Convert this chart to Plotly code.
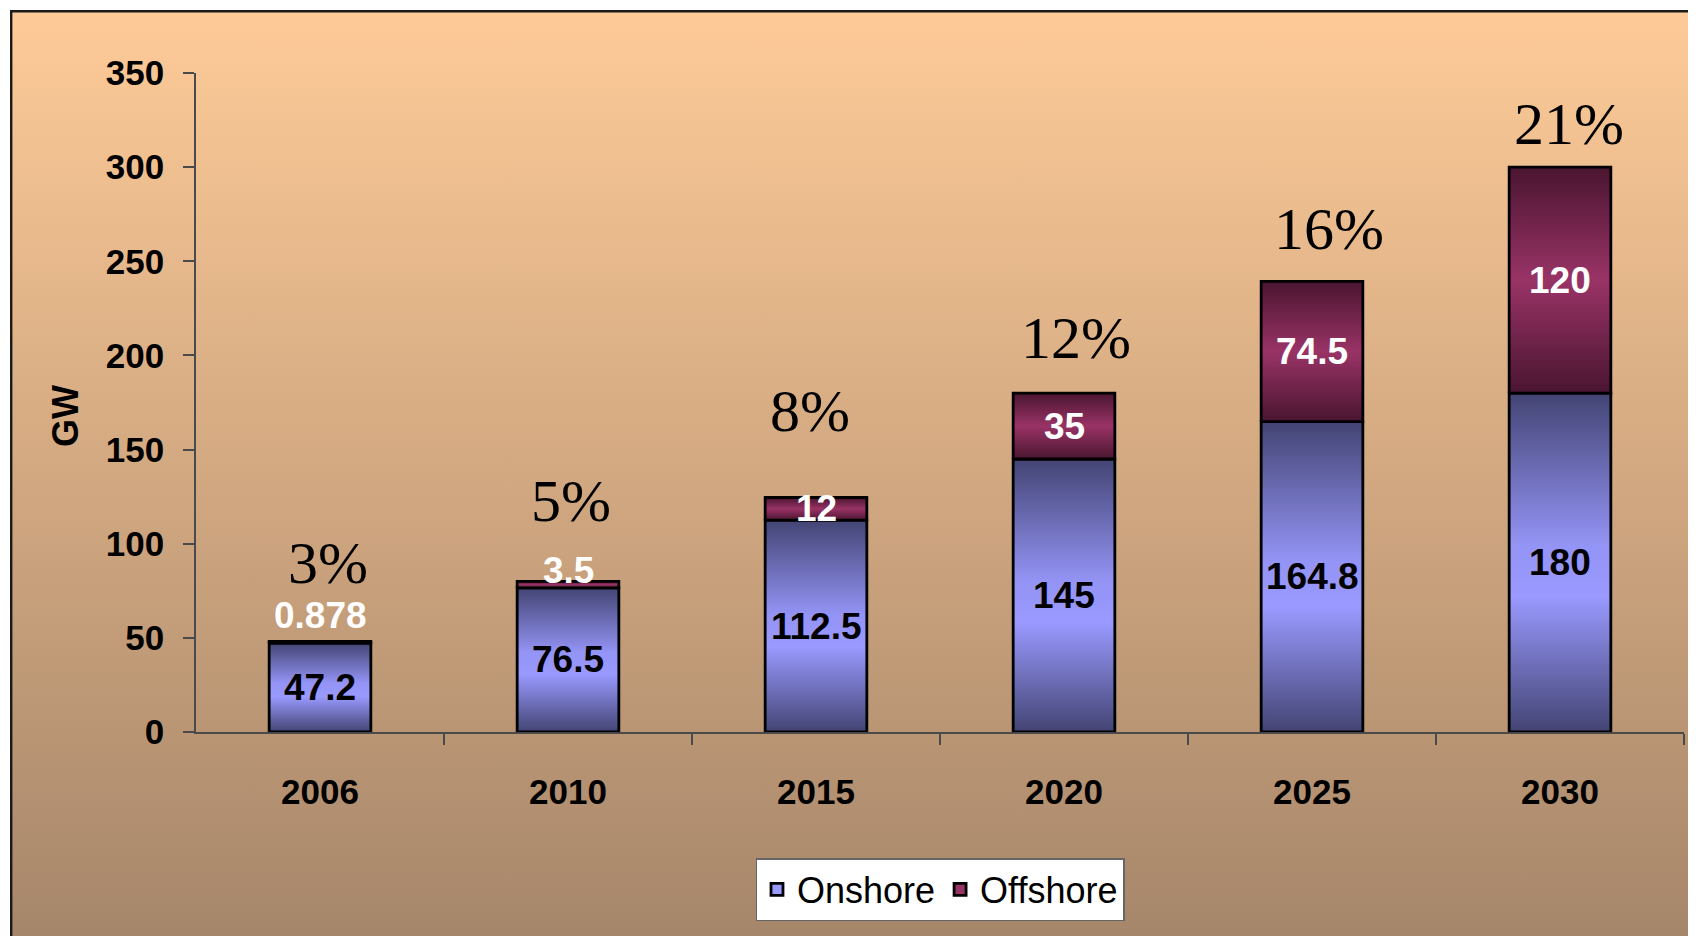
import base64
import plotly.graph_objects as go

# ---- data ----
years = ["2006", "2010", "2015", "2020", "2025", "2030"]
onshore = [47.2, 76.5, 112.5, 145, 164.8, 180]
offshore = [0.878, 3.5, 12, 35, 74.5, 120]
share_labels = ["3%", "5%", "8%", "12%", "16%", "21%"]
onshore_text = ["47.2", "76.5", "112.5", "145", "164.8", "180"]
offshore_text = ["0.878", "3.5", "12", "35", "74.5", "120"]
y_ticks = [0, 50, 100, 150, 200, 250, 300, 350]

# ---- layout constants (figure is placed at page offset 8,8 by body margin) ----
W, H = 1688, 928
ML, MR, MT, MB = 188, 12, 65, 204
PW, PH = W - ML - MR, H - MT - MB
bar_w = 0.41
xpos = list(range(len(years)))

SANS = "Liberation Sans, Arial, sans-serif"
SERIF = "Liberation Serif, Times New Roman, serif"

on_scale = [[0, "#434473"], [0.4, "#9999FF"], [0.55, "#9494f6"], [1, "#434473"]]
off_scale = [[0, "#4a1530"], [0.5, "#993366"], [1, "#4a1530"]]

fig = go.Figure()

# legend-bearing bars (solid), overdrawn by gradient polygons below
fig.add_trace(go.Bar(x=xpos, y=onshore, width=bar_w, name="Onshore",
                     marker=dict(color="#9999FF", line=dict(color="black", width=2.8)),
                     hoverinfo="skip"))
fig.add_trace(go.Bar(x=xpos, y=offshore, width=bar_w, name="Offshore",
                     marker=dict(color="#993366", line=dict(color="black", width=2.8)),
                     hoverinfo="skip"))

def seg(xc, b, t, scale):
    x0, x1 = xc - bar_w / 2, xc + bar_w / 2
    return go.Scatter(x=[x0, x1, x1, x0, x0], y=[b, b, t, t, b], mode="lines",
                      fill="toself",
                      fillgradient=dict(type="vertical", colorscale=scale),
                      line=dict(color="black", width=2.8),
                      hoverinfo="skip", showlegend=False)

for i, xc in enumerate(xpos):
    fig.add_trace(seg(xc, 0, onshore[i], on_scale))
    fig.add_trace(seg(xc, onshore[i], onshore[i] + offshore[i], off_scale))

annotations = []
# value labels
for i, xc in enumerate(xpos):
    annotations.append(dict(x=xc, y=onshore[i] / 2, text=onshore_text[i], showarrow=False,
                            font=dict(family=SANS, size=37, color="black", weight="bold"),
                            xanchor="center", yanchor="middle"))
off_shift = [26, 11, 0, 0, 0, 0]
for i, xc in enumerate(xpos):
    yv = onshore[i] + offshore[i] / 2 if off_shift[i] == 0 else onshore[i] + offshore[i]
    annotations.append(dict(x=xc, y=yv, text=offshore_text[i], showarrow=False,
                            font=dict(family=SANS, size=37, color="white", weight="bold"),
                            xanchor="center", yanchor="middle", yshift=off_shift[i]))
# share labels
pct_yshift = [43, 45, 52, 20, 17, 8]
pct_xshift = [8, 3, -6, 12, 17, 9]
for i, xc in enumerate(xpos):
    annotations.append(dict(x=xc, y=onshore[i] + offshore[i], text=share_labels[i],
                            showarrow=False, font=dict(family=SERIF, size=60, color="black"),
                            xanchor="center", yanchor="bottom",
                            yshift=pct_yshift[i], xshift=pct_xshift[i]))
# GW axis title
annotations.append(dict(xref="paper", yref="paper", x=(57 - ML) / PW, y=(H - MB - 408) / PH,
                        text="GW", textangle=-90, showarrow=False,
                        font=dict(family=SANS, size=36, color="black", weight="bold"),
                        xanchor="center", yanchor="middle"))

# background gradient + frame as an SVG image
IW, IH = W - 2, H - 2
svg = (f'<svg xmlns="http://www.w3.org/2000/svg" width="{IW}" height="{IH}" viewBox="0 0 {IW} {IH}">'
       '<defs><linearGradient id="g" x1="0" y1="0" x2="0" y2="1">'
       '<stop offset="0" stop-color="#FECB98"/><stop offset="1" stop-color="#A6866A"/>'
       '</linearGradient></defs>'
       f'<rect width="{IW}" height="{IH}" fill="url(#g)"/>'
       f'<path d="M1.2,{IH}V1.2H{IW}" stroke="#1a1a1a" stroke-width="2.4" fill="none"/></svg>')
src = "data:image/svg+xml;base64," + base64.b64encode(svg.encode()).decode()

fig.update_layout(
    width=W, height=H,
    margin=dict(l=ML, r=MR, t=MT, b=MB, pad=0),
    paper_bgcolor="white", plot_bgcolor="rgba(0,0,0,0)",
    barmode="stack",
    showlegend=True,
    legend=dict(orientation="h", x=0.5, xanchor="center", xref="paper",
                y=(H - MB - 850) / PH, yanchor="top",
                bgcolor="white", bordercolor="#666", borderwidth=1.5,
                font=dict(family=SANS, size=36, color="black"),
                traceorder="normal", itemwidth=30),
    images=[dict(source=src, xref="paper", yref="paper",
                 x=(2 - ML) / PW, y=(H - MB - 2) / PH,
                 sizex=IW / PW, sizey=IH / PH,
                 xanchor="left", yanchor="top", sizing="stretch", layer="below")],
    annotations=annotations,
    xaxis=dict(range=[-0.5, 5.5], tickvals=xpos, ticktext=years, ticks="",
               showline=True, linecolor="#4a4a4a", linewidth=1.5, showgrid=False,
               zeroline=False, ticklabelstandoff=28,
               tickfont=dict(family=SANS, size=35, color="black", weight="bold"),
               minor=dict(tickvals=[v + 0.5 for v in xpos], ticks="outside", ticklen=11,
                          tickcolor="#4a4a4a", tickwidth=1.5, showgrid=False)),
    yaxis=dict(range=[0, 350], tickvals=y_ticks, ticks="outside", ticklen=11,
               tickcolor="#4a4a4a", tickwidth=1.5,
               showline=True, linecolor="#4a4a4a", linewidth=1.5, showgrid=False,
               zeroline=False, ticklabelstandoff=12,
               tickfont=dict(family=SANS, size=35, color="black", weight="bold")),
)

fig.write_html("out.html", config={"displayModeBar": False})
